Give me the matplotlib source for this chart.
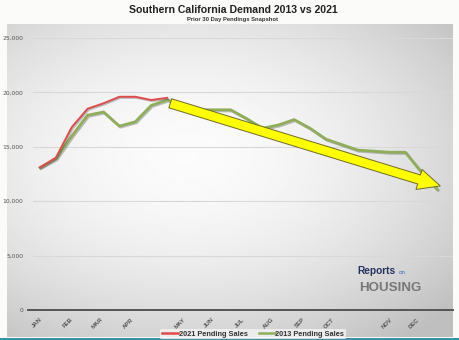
import numpy as np
import matplotlib.pyplot as plt
import matplotlib.patheffects as pe

# semi-monthly snapshots, index 0 = early January
sales_2021 = [13100, 14000, 16800, 18500, 19000, 19600, 19600, 19300, 19500]
sales_2013 = [13100, 13900, 16000, 17900, 18200, 16900, 17300, 18800, 19300,
              18900, 18400, 18400, 18400, 17600, 16700, 17000, 17500, 16700,
              15700, 15200, 14700, 14600, 14500, 14500, 12700, 11100]
month_labels = ["JAN", "FEB", "MAR", "APR", "MAY", "JUN", "JUL", "AUG",
                "SEP", "OCT", "NOV", "DEC"]
month_pos = [0, 1.9, 3.8, 5.7, 9.0, 10.8, 12.7, 14.6, 16.5, 18.4, 22.0, 23.7]
y_ticks = [0, 5000, 10000, 15000, 20000, 25000]

# trend arrow (start, end) in data units
arrow_start = (8.2, 19000)
arrow_end = (25.2, 11400)

W, H = 460, 340
fig = plt.figure(figsize=(W / 100, H / 100), dpi=100)
fig.patch.set_facecolor("#fbfbf9")

# gray panel with a soft radial gradient
bg = fig.add_axes([7 / W, 3 / H, 446 / W, 313 / H])
gx, gy = np.meshgrid(np.linspace(-1, 1, 300), np.linspace(-1, 1, 220))
r = np.clip(np.sqrt(((gx + 0.2) / 1.15) ** 2 + ((gy + 0.15) / 1.05) ** 2), 0, 1.4)
bg.imshow(0.985 - 0.13 * r ** 1.8, cmap="gray", vmin=0, vmax=1, aspect="auto")
bg.axis("off")

# teal strip along the bottom
strip = fig.add_axes([0, 0, 1, 2.5 / H])
strip.set_facecolor("#3f8ea3")
strip.set_xticks([])
strip.set_yticks([])
for s in strip.spines.values():
    s.set_visible(False)

ax = fig.add_axes([33 / W, 30 / H, 420 / W, 272 / H])
ax.patch.set_alpha(0)

shadow = [pe.SimpleLineShadow(offset=(0.8, -0.8), shadow_color="#333333", alpha=0.3), pe.Normal()]
ax.plot(range(len(sales_2013)), sales_2013, color="#8fae5a", lw=2.0,
        label="2013 Pending Sales", path_effects=shadow, zorder=3)
ax.plot(range(len(sales_2021)), sales_2021, color="#e04b4b", lw=1.4,
        label="2021 Pending Sales", path_effects=shadow, zorder=4)

ax.annotate("", xy=arrow_end, xytext=arrow_start,
            arrowprops=dict(arrowstyle="simple,head_length=1.6,head_width=1.5,tail_width=0.68",
                            fc="#ffff00", ec="#6e6a2a", lw=0.7, mutation_scale=10,
                            shrinkA=0, shrinkB=0), zorder=5)

ax.set_xlim(-0.44, 26)
ax.set_ylim(0, 25000)
ax.set_yticks(y_ticks)
ax.set_yticklabels([f"{v:,}" for v in y_ticks], fontsize=4.3, color="#555555")
ax.tick_params(axis="y", length=0, pad=7)
ax.grid(axis="y", color="#d8d8d8", lw=0.8)
ax.set_axisbelow(True)

ax.set_xticks(month_pos)
ax.set_xticklabels(month_labels, rotation=45, ha="right", rotation_mode="anchor",
                   fontsize=4.3, color="#555555", fontweight="bold",
                   family="Liberation Sans")
ax.tick_params(axis="x", length=0, pad=5)

for side in ["top", "right", "left"]:
    ax.spines[side].set_visible(False)
ax.spines["bottom"].set_color("#555555")
ax.spines["bottom"].set_linewidth(1.4)
ax.plot([-0.75, -0.44], [0, 0], color="#555555", lw=1.4, clip_on=False)

handles, labels = ax.get_legend_handles_labels()
leg = fig.legend(handles[::-1], labels[::-1], loc="center", bbox_to_anchor=(253 / W, 6 / H),
                 ncol=2, frameon=True, handlelength=2.2, columnspacing=1.5,
                 handletextpad=0.1, borderpad=0.2,
                 prop=dict(family="Liberation Sans", weight="bold", size=5.3))
leg.get_frame().set_facecolor("#f4f4f4")
leg.get_frame().set_edgecolor("none")
for t in leg.get_texts():
    t.set_color("#333333")
for h in leg.legend_handles:
    h.set_path_effects([])
    h.set_linewidth(1.8)

fig.text(233 / W, 1 - 10 / H, "Southern California Demand 2013 vs 2021", ha="center", va="center",
         fontsize=7.6, fontweight="bold", family="Liberation Sans", color="#222222")
fig.text(233 / W, 1 - 19.5 / H, "Prior 30 Day Pendings Snapshot", ha="center", va="center",
         fontsize=4.2, fontweight="bold", family="Liberation Sans", color="#333333")

# logo
fig.text(357 / W, 1 - 271 / H, "Reports", ha="left", va="center", fontsize=7.3,
         fontweight="bold", family="Liberation Sans", color="#23335f")
fig.text(399 / W, 1 - 272.5 / H, "on", ha="left", va="center", fontsize=4.5,
         family="Liberation Sans", color="#2f6db5")
fig.text(359 / W, 1 - 288 / H, "HOUSING", ha="left", va="center", fontsize=9.6,
         fontweight="bold", family="Liberation Sans", color="#777777")

fig.savefig("out.png", dpi=100, facecolor=fig.get_facecolor())
